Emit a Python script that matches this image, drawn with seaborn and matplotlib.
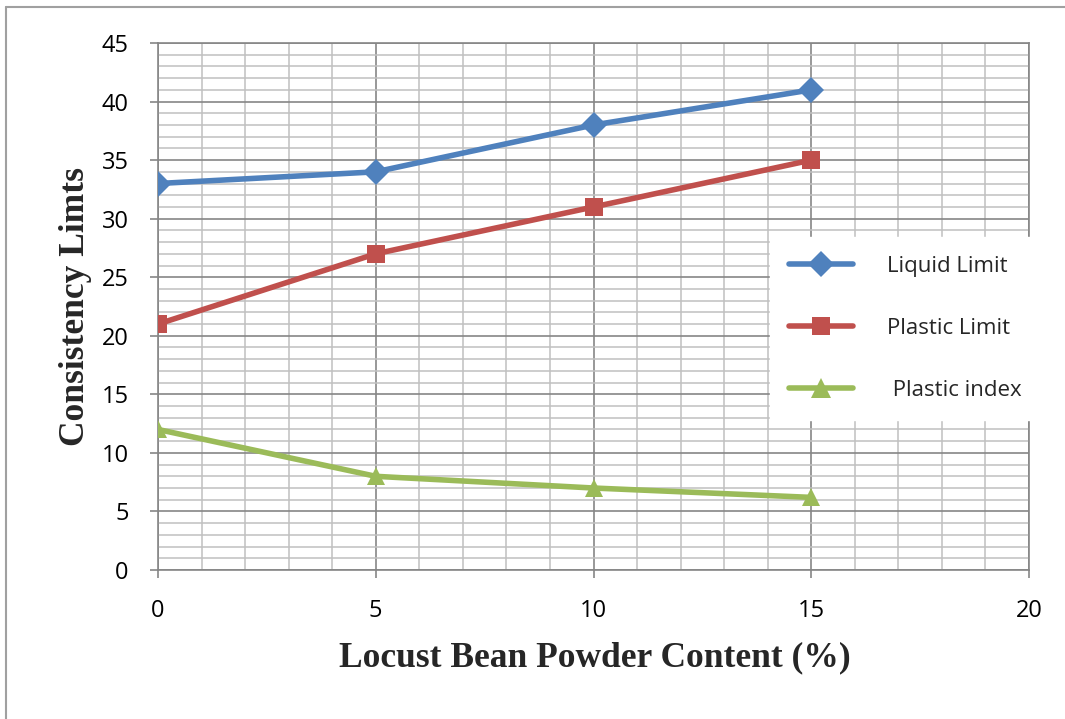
import matplotlib
matplotlib.use("Agg")
import matplotlib.pyplot as plt
from matplotlib.lines import Line2D
from matplotlib.ticker import MultipleLocator
import seaborn as sns
import pandas as pd

# ---- data ----
content = [0, 5, 10, 15]
liquid_limit = [33, 34, 38, 41]
plastic_limit = [21, 27, 31, 35]
plastic_index = [12, 8, 7, 6.2]
series_names = ["Liquid Limit", "Plastic Limit", " Plastic index"]
x_ticks = [0, 5, 10, 15, 20]
y_ticks = [0, 5, 10, 15, 20, 25, 30, 35, 40, 45]

df = pd.DataFrame({
    "x": content * 3,
    "y": liquid_limit + plastic_limit + plastic_index,
    "series": [series_names[0]] * 4 + [series_names[1]] * 4 + [series_names[2]] * 4,
})

colors = {series_names[0]: "#4F81BD", series_names[1]: "#C0504D", series_names[2]: "#9BBB59"}
markers = {series_names[0]: "D", series_names[1]: "s", series_names[2]: "^"}
msizes = {series_names[0]: 13, series_names[1]: 13, series_names[2]: 14}

sns.set_style("white")
plt.rcParams["font.family"] = ["Open Sans", "DejaVu Sans"]

fig = plt.figure(figsize=(10.65, 7.19), dpi=100)
ax = fig.add_axes([158 / 1065, 1 - 570 / 719, 871 / 1065, 527 / 719])

sns.lineplot(data=df, x="x", y="y", hue="series", style="series",
             palette=colors, markers=markers, dashes=False,
             linewidth=4.0, markersize=13, markeredgewidth=0,
             ax=ax, legend=False, zorder=5)

ax.set_xlim(0, 20)
ax.set_ylim(0, 45)
ax.set_xticks(x_ticks)
ax.set_yticks(y_ticks)
ax.xaxis.set_minor_locator(MultipleLocator(1))
ax.yaxis.set_minor_locator(MultipleLocator(1))
ax.grid(which="major", color="#868686", linewidth=1.2, zorder=1)
ax.grid(which="minor", color="#C0C0C0", linewidth=1.1, zorder=0)
ax.set_axisbelow(True)
for s in ax.spines.values():
    s.set_color("#868686")
    s.set_linewidth(1.2)
ax.tick_params(which="major", direction="out", length=6, width=1.2, color="#868686",
               labelsize=17, labelcolor="black", pad=15, left=True, bottom=True)
ax.tick_params(which="minor", length=0)

ax.set_xlabel("Locust Bean Powder Content (%)", fontfamily="Liberation Serif",
              fontweight="bold", fontsize=25.5)
ax.set_ylabel("Consistency Limts", fontfamily="Liberation Serif",
              fontweight="bold", fontsize=25.5)
ax.xaxis.set_label_coords(0.502, -0.135)
ax.yaxis.set_label_coords(-0.076, 0.5)

handles = [Line2D([0], [0], color=colors[n], marker=markers[n], linewidth=4.0,
                  markersize=msizes[n], markeredgewidth=0) for n in series_names]
leg = ax.legend(handles, series_names, loc="upper left",
                bbox_to_anchor=(770 / 1065, 1 - 237 / 719), bbox_transform=fig.transFigure,
                frameon=True, fancybox=False, framealpha=1, edgecolor="white",
                fontsize=16, labelspacing=1.85, handlelength=2.9, handletextpad=1.5,
                borderpad=0.85, borderaxespad=0)
leg.set_zorder(10)

# outer chart border (left and top edges visible)
fig.add_artist(Line2D([6 / 1065, 6 / 1065], [0, 1 - 7 / 719], transform=fig.transFigure,
                      color="#A0A0A0", linewidth=1.5))
fig.add_artist(Line2D([6 / 1065, 1], [1 - 7 / 719, 1 - 7 / 719], transform=fig.transFigure,
                      color="#A0A0A0", linewidth=1.5))

fig.savefig("out.png", dpi=100)
